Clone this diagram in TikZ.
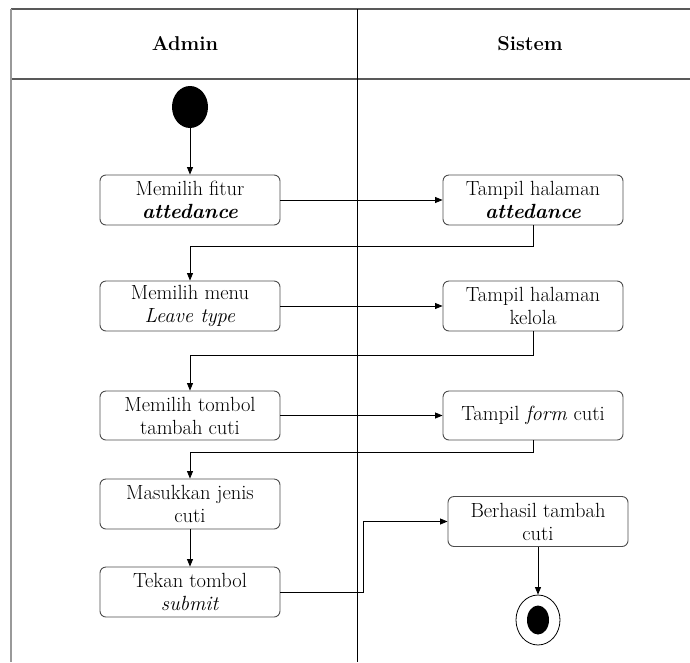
\documentclass[tikz,border=0pt]{standalone}
\usetikzlibrary{arrows.meta,shapes.geometric}
\tikzset{
  act/.style={draw=black!70, line width=0.9pt, rounded corners=6pt, minimum width=180pt,
    minimum height=50pt, inner sep=1pt, align=center, font=\fontsize{20.5}{23}\selectfont},
  lane/.style={font=\fontsize{20}{24}\selectfont\bfseries},
  flow/.style={-{Triangle[length=7.5pt,width=6pt]}, line width=0.8pt},
}
\begin{document}
\begin{tikzpicture}[x=1pt,y=-1pt]
        \useasboundingbox (0,0) rectangle (690,662);
        % swimlanes
        \draw[black!65, line width=1.6pt] (11,9) -- (690,9);
        \draw[black!65, line width=1.6pt] (11,79) -- (690,79);
        \draw[black!40, line width=1.6pt] (11,9) -- (11,662);
        \draw[line width=1pt] (357,9) -- (357,662);
        \node[lane] (admin) at (185,44) {Admin};
        \node[lane] (sistem) at (530,44) {Sistem};
        % admin
        \node[ellipse, fill, minimum width=36pt, minimum height=42pt, inner sep=0pt] (start) at (190,107) {};
        \node[act] (a1) at (190,200) {Memilih fitur\\\textbf{\textit{attedance}}};
        \node[act] (a2) at (190,306) {Memilih menu\\\textit{Leave type}};
        \node[act, minimum height=49pt] (a3) at (190,415.5) {Memilih tombol\\tambah cuti};
        \node[act] (a4) at (190,504) {Masukkan jenis\\cuti};
        \node[act] (a5) at (190,592) {Tekan tombol\\\textit{submit}};
        % sistem
        \node[act] (s1) at (533,200) {Tampil halaman\\\textbf{\textit{attedance}}};
        \node[act] (s2) at (533,306) {Tampil halaman\\kelola};
        \node[act, minimum height=49pt] (s3) at (533,415.5) {Tampil \textit{form} cuti};
        \node[act] (s4) at (538,521.5) {Berhasil tambah\\cuti};
        \node[ellipse, draw, line width=0.8pt, minimum width=44pt, minimum height=50pt, inner sep=0pt] (fin) at (538,620) {};
        \node[ellipse, fill, minimum width=22pt, minimum height=29pt, inner sep=0pt] (fin-dot) at (fin) {};
        % alur
        \draw[flow] (start) -- (a1);
        \draw[flow] (a1) -- (s1);
        \draw[flow] (s1.south) -- ++(0,21) -| (a2.north);
        \draw[flow] (a2) -- (s2);
        \draw[flow] (s2.south) -- ++(0,24) -| (a3.north);
        \draw[flow] (a3) -- (s3);
        \draw[flow] (s3.south) -- ++(0,12) -| (a4.north);
        \draw[flow] (a4) -- (a5);
        \draw[flow] (a5.east) -- ++(83,0) |- (s4.west);
        \draw[flow] (s4) -- (fin);
      \end{tikzpicture}
\end{document}
